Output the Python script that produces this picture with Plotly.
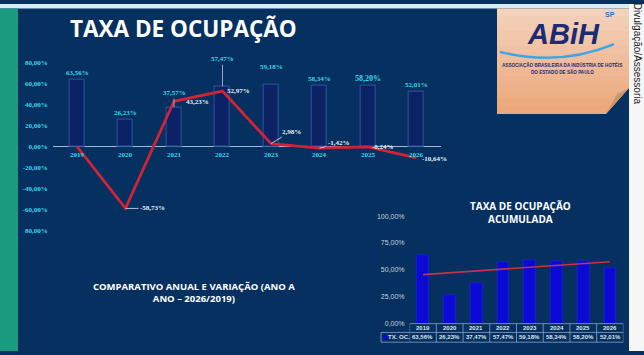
import plotly.graph_objects as go

W, H = 644, 355

# ---------------- data ----------------
years = ["2019", "2020", "2021", "2022", "2023", "2024", "2025", "2026"]
occupancy = [63.56, 26.23, 37.57, 57.47, 59.18, 58.34, 58.20, 52.01]
variation = [0.0, -58.73, 43.23, 52.97, 2.98, -1.42, -0.24, -10.64]
occupancy_acc = [63.56, 26.23, 37.47, 57.47, 59.18, 58.34, 58.20, 52.01]
trend_years = ["2019", "2026"]
trend_values = [45.6, 57.5]
main_tick_vals = [80, 60, 40, 20, 0, -20, -40, -60, -80]
main_tick_text = ["80,00%", "60,00%", "40,00%", "20,00%", "0,00%",
                  "-20,00%", "-40,00%", "-60,00%", "80,00%"]
small_tick_vals = [0, 25, 50, 75, 100]
small_tick_text = ["0,00%", "25,00%", "50,00%", "75,00%", "100,00%"]

# ---------------- style ----------------
NAVY = "#05305f"
CYAN = "#3dd6ee"
RED = "#cf2336"
SERIF = "Liberation Serif"
SANS = "Liberation Sans"
HEAD = "Open Sans"

# label offsets (pixels: center of text relative to point) and leader flags
bar_lab_off = [(0, -6.5), (0, -6), (0, -14), (0, -27), (0, -18), (0, -6), (0, -7), (0, -7)]
bar_lab_leader = [False, False, True, True, False, False, False, False]
bar_lab_size = [7, 7, 7, 7, 7, 7, 8, 7]
var_lab_off = [None, (27, 0), (23, 0.5), (16, 0), (20, -12), (19, -5), (14.5, 0.4), (18, 1)]
var_lab_leader = [False, True, False, False, True, True, False, False]


def px(x):
    return x / W


def py(y):
    return 1 - y / H


def fmt(v):
    return f"{v:.2f}%".replace(".", ",")


def paper_text(text, x, y, font, **kw):
    d = dict(text=text, x=px(x), y=py(y), xref="paper", yref="paper", showarrow=False,
             xanchor="center", yanchor="middle", font=font)
    d.update(kw)
    return d


fig = go.Figure()

# main chart bars
fig.add_trace(go.Bar(
    x=years, y=occupancy, xaxis="x", yaxis="y", width=0.31,
    marker=dict(color="#0b2264", line=dict(color="#2a4c98", width=1.2)),
    hoverinfo="skip", showlegend=False))
# variation line
fig.add_trace(go.Scatter(
    x=years, y=variation, xaxis="x", yaxis="y", mode="lines",
    line=dict(color=RED, width=2.8), hoverinfo="skip", showlegend=False))

# small chart
fig.add_trace(go.Bar(
    x=years, y=occupancy_acc, xaxis="x2", yaxis="y2", width=0.44,
    marker=dict(color="#0a0ad4", line=dict(color="#2424ff", width=0.6)),
    hoverinfo="skip", showlegend=False))
fig.add_trace(go.Scatter(
    x=trend_years, y=trend_values, xaxis="x2", yaxis="y2", mode="lines",
    line=dict(color="#c8304c", width=1.6), hoverinfo="skip", showlegend=False))

ann = []
shapes = []

# ---------- background decoration ----------
shapes.append(dict(type="rect", xref="paper", yref="paper", x0=0, x1=1, y0=py(4.5), y1=1,
                   fillcolor="#d6ebf7", line_width=0, layer="below"))
shapes.append(dict(type="rect", xref="paper", yref="paper", x0=0, x1=px(18), y0=0, y1=py(4.5),
                   fillcolor="#1a9a7e", line_width=0, layer="below"))
shapes.append(dict(type="rect", xref="paper", yref="paper", x0=px(629), x1=1, y0=0, y1=1,
                   fillcolor="#f6f6f6", line_width=0, layer="below"))

# logo box with banded gradient
top_c = (244, 210, 188)
bot_c = (236, 168, 122)
nb = 14
y0b, y1b = 4.5, 112
for i in range(nb):
    t = i / (nb - 1)
    c = tuple(int(top_c[k] + (bot_c[k] - top_c[k]) * t) for k in range(3))
    ya = y0b + (y1b - y0b) * i / nb
    yb = y0b + (y1b - y0b) * (i + 1) / nb + 0.5
    shapes.append(dict(type="rect", xref="paper", yref="paper", x0=px(497), x1=px(629),
                       y0=py(yb), y1=py(ya), fillcolor="rgb(%d,%d,%d)" % c, line_width=0,
                       layer="below"))
# page curl
shapes.append(dict(type="path", xref="paper", yref="paper",
                   path=f"M {px(606)},{py(112.5)} L {px(629)},{py(86)} L {px(629)},{py(112.5)} Z",
                   fillcolor=NAVY, line_width=0, layer="below"))
shapes.append(dict(type="path", xref="paper", yref="paper",
                   path=f"M {px(606)},{py(112.5)} L {px(617)},{py(92)} L {px(629)},{py(86)} Z",
                   fillcolor="#c9976f", line_width=0, layer="below"))
# swoosh
shapes.append(dict(type="path", xref="paper", yref="paper",
                   path=f"M {px(500)},{py(49)} Q {px(560)},{py(64)} {px(614)},{py(41)}",
                   line=dict(color="#3aa6e6", width=2.5), layer="below"))

# logo text
ann.append(paper_text("ABiH", 563, 31, dict(family=SANS, size=29, color="#1b2b74",
                                            weight="bold", style="italic")))
ann.append(paper_text("SP", 610, 11, dict(family=SANS, size=7, color="#2a70d0", weight="bold")))
ann.append(paper_text("ASSOCIAÇÃO BRASILEIRA DA INDÚSTRIA DE HOTÉIS", 562, 62,
                      dict(family=SANS, size=4.6, color="#1b2b74", weight="bold")))
ann.append(paper_text("DO ESTADO DE SÃO PAULO", 562, 70,
                      dict(family=SANS, size=4.6, color="#1b2b74", weight="bold")))

# vertical credit
ann.append(paper_text("Divulgação/Assessoria", 637, 51, dict(family=SANS, size=10, color="#1a1a1a"),
                      textangle=90))

# titles
ann.append(paper_text("TAXA DE OCUPAÇÃO", 183, 25.5,
                      dict(family=HEAD, size=22.5, color="white", weight="bold")))
ann.append(paper_text("COMPARATIVO ANUAL E VARIAÇÃO (ANO A<br>ANO – 2026/2019)", 194, 295.5,
                      dict(family=HEAD, size=9.5, color="white", weight="bold"), align="center"))
ann.append(paper_text("TAXA DE OCUPAÇÃO<br>ACUMULADA", 520, 213.5,
                      dict(family=HEAD, size=10, color="white", weight="bold"), align="center"))

# ---------- main chart labels ----------
for i, yr in enumerate(years):
    ann.append(dict(text=yr, x=i, y=0, xref="x", yref="y", yshift=-8, showarrow=False,
                    xanchor="center", yanchor="middle",
                    font=dict(family=SERIF, size=7, color=CYAN, weight="bold")))
    dx, dy = bar_lab_off[i]
    ann.append(dict(text=fmt(occupancy[i]), x=i, y=occupancy[i], xref="x", yref="y",
                    showarrow=True, ax=dx, ay=dy, arrowhead=0, arrowwidth=0.8,
                    arrowcolor="#b8c8dc" if bar_lab_leader[i] else "rgba(0,0,0,0)",
                    font=dict(family=SERIF, size=bar_lab_size[i], color=CYAN, weight="bold")))
    if var_lab_off[i] is not None:
        dx, dy = var_lab_off[i]
        ann.append(dict(text=fmt(variation[i]), x=i, y=variation[i], xref="x", yref="y",
                        showarrow=True, ax=dx, ay=dy, arrowhead=0, arrowwidth=0.9,
                        arrowcolor="#c8d4e4" if var_lab_leader[i] else "rgba(0,0,0,0)",
                        font=dict(family=SERIF, size=7, color="#e8eef8", weight="bold")))

# ---------- small chart data table ----------
TBL = "#8da2c2"
row_top, row_mid, row_bot = 327, 336, 346
for yy in (row_top, row_mid, row_bot):
    shapes.append(dict(type="line", xref="x2", yref="paper", x0=-0.5, x1=7.5, y0=py(yy), y1=py(yy),
                       line=dict(color=TBL, width=0.8)))
for yy in (row_mid, row_bot):
    shapes.append(dict(type="line", xref="paper", yref="paper", x0=px(381), x1=px(409.6),
                       y0=py(yy), y1=py(yy), line=dict(color=TBL, width=0.8)))
shapes.append(dict(type="line", xref="paper", yref="paper", x0=px(381), x1=px(381),
                   y0=py(row_mid), y1=py(row_bot), line=dict(color=TBL, width=0.8)))
for k in range(len(years) + 1):
    shapes.append(dict(type="line", xref="x2", yref="paper", x0=k - 0.5, x1=k - 0.5,
                       y0=py(row_top), y1=py(row_bot), line=dict(color=TBL, width=0.8)))
shapes.append(dict(type="rect", xref="paper", yref="paper", x0=px(383), x1=px(387.5),
                   y0=py(343), y1=py(338.5), fillcolor="#0a0ad4", line_width=0))
ann.append(paper_text("TX. OC.", 398.5, 341, dict(family=SANS, size=6, color="#dde4ee", weight="bold")))
for i, yr in enumerate(years):
    ann.append(dict(text=yr, x=i, y=py(331.5), xref="x2", yref="paper", showarrow=False,
                    xanchor="center", yanchor="middle",
                    font=dict(family=SANS, size=6, color="#dde4ee", weight="bold")))
    ann.append(dict(text=fmt(occupancy_acc[i]), x=i, y=py(341), xref="x2", yref="paper",
                    showarrow=False, xanchor="center", yanchor="middle",
                    font=dict(family=SANS, size=6, color="#dde4ee", weight="bold")))

fig.update_layout(
    width=W, height=H, margin=dict(l=0, r=0, t=0, b=0),
    paper_bgcolor=NAVY, plot_bgcolor="rgba(0,0,0,0)",
    bargap=0, showlegend=False,
    xaxis=dict(domain=[52.75 / W, 440.75 / W], anchor="y", type="category",
               showticklabels=False, showgrid=False, zeroline=False, showline=False,
               range=[-0.5, 7.5]),
    yaxis=dict(domain=[py(232), py(60)], anchor="x", range=[-80, 80],
               tickvals=main_tick_vals, ticktext=main_tick_text,
               tickfont=dict(family=SERIF, size=7, color=CYAN, weight="bold"),
               showgrid=False, zeroline=True, zerolinecolor="#a4b8d4", zerolinewidth=1,
               ticklabelstandoff=4, showline=False),
    xaxis2=dict(domain=[409.6 / W, 623.4 / W], anchor="y2", type="category",
                showticklabels=False, showgrid=False, zeroline=False, showline=False,
                range=[-0.5, 7.5]),
    yaxis2=dict(domain=[py(327), py(217)], anchor="x2", range=[0, 100],
                tickvals=small_tick_vals, ticktext=small_tick_text,
                tickfont=dict(family=SANS, size=7, color="#c8d0dc"),
                showgrid=False, zeroline=False, showline=False, ticklabelstandoff=4),
    annotations=ann, shapes=shapes,
)

fig.write_html("out.html", config={"displayModeBar": False},
               post_script="document.body.style.margin='0';document.body.style.padding='0';")
